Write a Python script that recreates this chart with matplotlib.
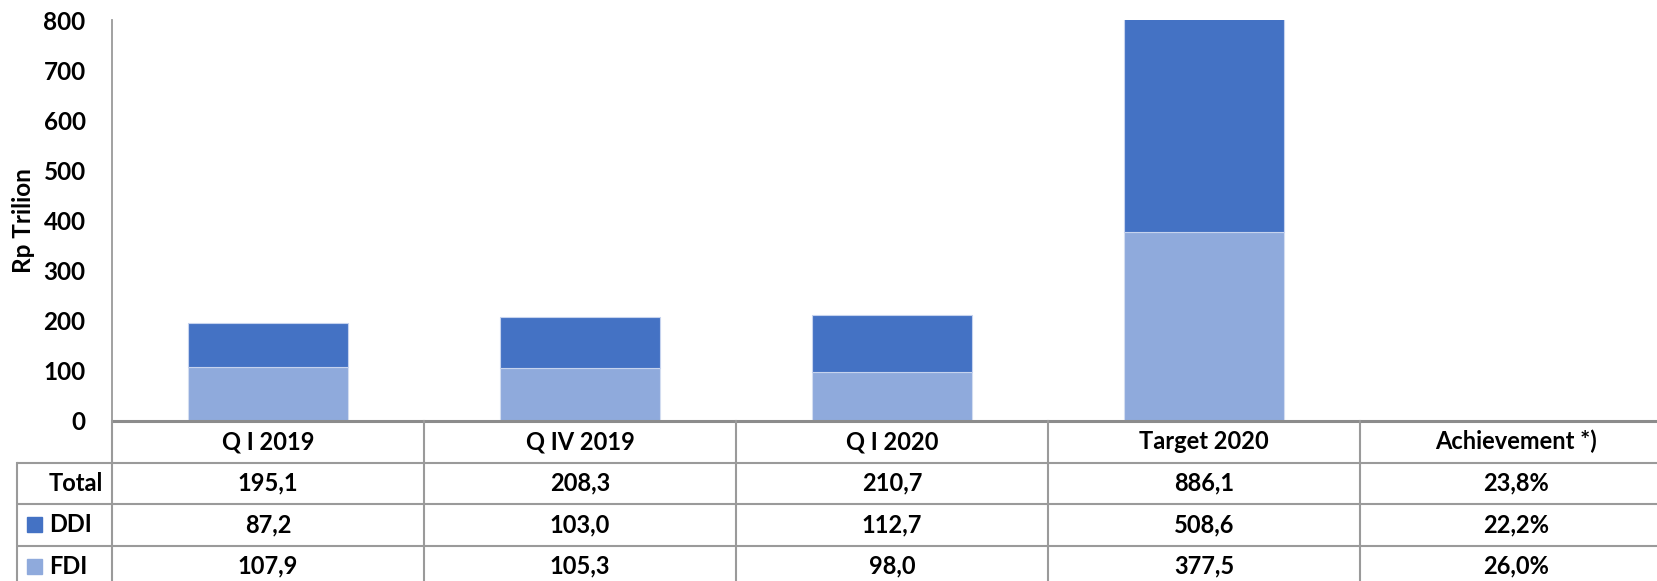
import matplotlib
matplotlib.use('Agg')
import matplotlib.pyplot as plt
from matplotlib.patches import Rectangle

plt.rcParams['font.family'] = ['Lato', 'DejaVu Sans']
plt.rcParams['font.weight'] = 'bold'

categories = ['Q I 2019', 'Q IV 2019', 'Q I 2020', 'Target 2020']
extra_column = 'Achievement *)'
ddi = [87.2, 103.0, 112.7, 508.6]
fdi = [107.9, 105.3, 98.0, 377.5]
achievement = ['23,8%', '22,2%', '26,0%']

DDI_COLOR = '#4472C4'
FDI_COLOR = '#8FAADC'
GRID = '#9a9a9a'
FS = 17

def fmt(v):
    return f'{v:.1f}'.replace('.', ',')

W, H = 1657, 581
fig = plt.figure(figsize=(W / 100, H / 100), dpi=100)

# layout in pixels
left_px, zero_px, top_px = 112, 421, 20.4
col_w = 312
row_h = 41.5
ncols = len(categories) + 1

ax = fig.add_axes([left_px / W, 1 - zero_px / H, ncols * col_w / W, (zero_px - top_px) / H])
x = list(range(len(categories)))
ax.bar(x, fdi, width=0.513, color=FDI_COLOR, edgecolor='#d3ddf0', linewidth=0.8)
ax.bar(x, ddi, bottom=fdi, width=0.513, color=DDI_COLOR, edgecolor='#c6d3ee', linewidth=0.8)
ax.set_xlim(-0.5, ncols - 0.5)
ax.set_ylim(0, 800)
ax.set_yticks(range(0, 801, 100))
ax.set_xticks([])
ax.tick_params(axis='y', length=0, pad=19, labelsize=17.5)
for s in ['top', 'right', 'bottom']:
    ax.spines[s].set_visible(False)
ax.spines['left'].set_color(GRID)
ax.spines['left'].set_linewidth(1.3)
ax.set_ylabel('Rp Trilion', fontsize=17.5, fontweight='bold', va='center')
ax.yaxis.set_label_coords(-0.057, 0.5)

# table under the chart, sharing the x columns
tab_h = H - zero_px
tax = fig.add_axes([left_px / W, 0, ncols * col_w / W, tab_h / H])
tax.set_xlim(-0.5, ncols - 0.5)
tax.set_ylim(tab_h / row_h, 0)
tax.axis('off')

label_left = -0.5 - (left_px - 17) / col_w
bottom = tab_h / row_h
lw = 1.5
tax.plot([-0.5, ncols - 0.5], [0, 0], color='#8c8c8c', lw=2.2, clip_on=False, solid_capstyle='butt')
for r in [1, 2, 3]:
    tax.plot([label_left, ncols - 0.5], [r, r], color=GRID, lw=lw, clip_on=False, solid_capstyle='butt')
for k in range(ncols + 1):
    tax.plot([-0.5 + k, -0.5 + k], [0, bottom], color=GRID, lw=lw, clip_on=False)
tax.plot([label_left, label_left], [1, bottom], color=GRID, lw=lw, clip_on=False)

headers = categories + [extra_column]
totals = [fmt(a + b) for a, b in zip(ddi, fdi)]
rows = [
    ('Total', None, totals + [achievement[0]]),
    ('DDI', DDI_COLOR, [fmt(v) for v in ddi] + [achievement[1]]),
    ('FDI', FDI_COLOR, [fmt(v) for v in fdi] + [achievement[2]]),
]

for i, h in enumerate(headers):
    tax.text(i, 0.5, h, ha='center', va='center', fontsize=FS, fontweight='bold')

px = 1 / col_w
for r, (name, color, vals) in enumerate(rows, start=1):
    yc = r + 0.5
    if color is None:
        tax.text(-0.5 - 9 * px, yc, name, ha='right', va='center', fontsize=FS, fontweight='bold')
    else:
        sq = 15
        tax.add_patch(Rectangle((-0.5 - 85 * px, yc - sq / 2 / row_h), sq * px, sq / row_h,
                                color=color, clip_on=False))
        tax.text(-0.5 - 63 * px, yc, name, ha='left', va='center', fontsize=FS, fontweight='bold')
    for i, v in enumerate(vals):
        tax.text(i, yc, v, ha='center', va='center', fontsize=FS, fontweight='bold')

fig.savefig('out.png', dpi=100)
